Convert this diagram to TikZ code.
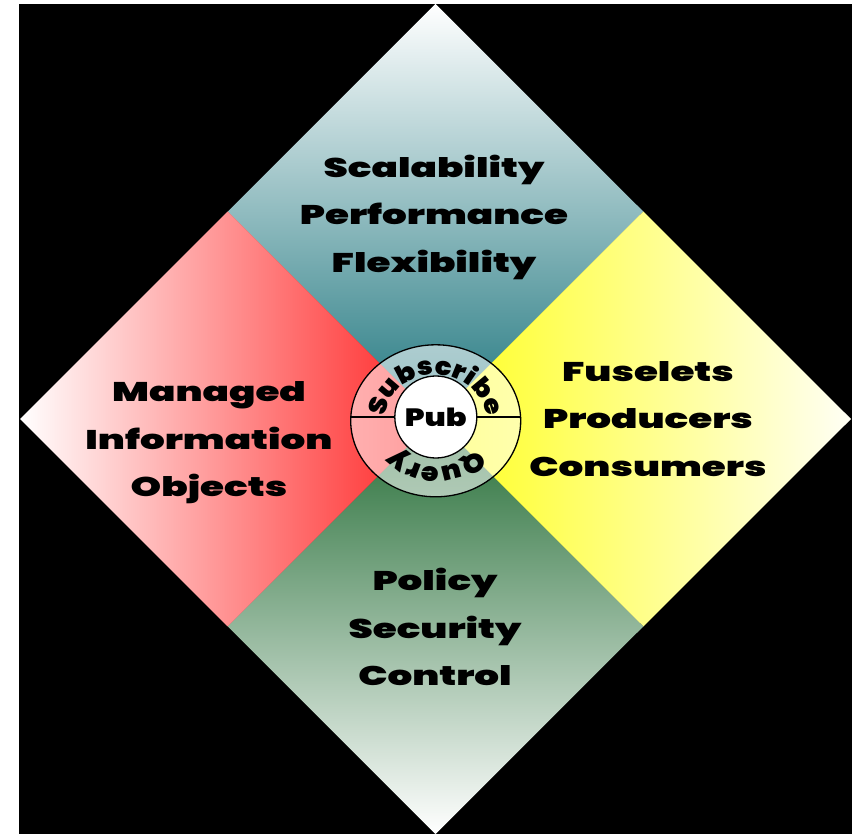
\documentclass[tikz,border=0pt]{standalone}
\usepackage{fontspec}
\usetikzlibrary{shapes.geometric,decorations.text}
\newfontfamily\heavy[FakeStretch=1.44]{Poppins Black}
\newfontfamily\ringfont[FakeStretch=1.1]{Poppins Black}
\newfontfamily\pubfont[FakeStretch=1.22]{Poppins Black}
\definecolor{tealc}{RGB}{34,120,128}
\definecolor{tealm}{RGB}{165,200,205}
\definecolor{redc}{RGB}{255,35,35}
\definecolor{redm}{RGB}{252,160,160}
\definecolor{yelc}{RGB}{255,255,30}
\definecolor{yelw}{RGB}{255,255,245}
\definecolor{yelm}{RGB}{255,255,150}
\definecolor{grnc}{RGB}{38,110,55}
\definecolor{grnm}{RGB}{155,185,160}
\tikzset{
  lbl/.style={font=\heavy\fontsize{27}{47.5}\selectfont, align=center, inner sep=0pt, text=black},
  ringline/.style={draw=black, line width=1.3pt},
}
\begin{document}
\begin{tikzpicture}[x=1pt,y=-1pt]
\useasboundingbox (0,0) rectangle (852,834);
\fill[white] (0,0) rectangle (852,834);
\fill[black] (19,4) rectangle (852,834);
\coordinate (C) at (435.5,419);
\coordinate (T) at (435.5,4);
\coordinate (L) at (20,419);
\coordinate (R) at (851,419);
\coordinate (B) at (435.5,834);
\coordinate (TL) at (227.75,211.5);
\coordinate (TR) at (643.25,211.5);
\coordinate (BL) at (227.75,626.5);
\coordinate (BR) at (643.25,626.5);
% quadrants
\shade[top color=white, middle color=tealm, bottom color=tealc] (T) -- (TR) -- (C) -- (TL) -- cycle;
\shade[left color=white, middle color=redm, right color=redc] (L) -- (TL) -- (C) -- (BL) -- cycle;
\shade[left color=yelc, middle color=yelm, right color=yelw] (R) -- (TR) -- (C) -- (BR) -- cycle;
\shade[top color=grnc, middle color=grnm, bottom color=white] (B) -- (BR) -- (C) -- (BL) -- cycle;
% labels
\node[lbl] (top) at (434,217) {Scalability\\Performance\\Flexibility};
\node[lbl] (left) at (209,443) {Managed\\Information\\Objects};
\node[lbl] (right) at (648,419) {Fuselets\\Producers\\Consumers};
\node[lbl] (bottom) at (435,627) {Policy\\Security\\Control};
% centre ring
\node[ellipse, draw=black, line width=1.3pt, fill=white, fill opacity=0.55,
      minimum width=170pt, minimum height=152pt, inner sep=0pt] (ring) at (435.7,420.8) {};
\node[circle, draw=black, line width=1.3pt, fill=white, minimum size=82pt, inner sep=0pt,
      font=\pubfont\fontsize{25}{25}\selectfont] (pub) at (435.8,417) {Pub};
\draw[ringline] (ring.west |- pub.west) -- (pub.west);
\draw[ringline] (ring.east |- pub.east) -- (pub.east);
\path[decorate, decoration={text along path, text align=center,
      text={|\ringfont\fontsize{25}{25}\selectfont|Subscribe}}]
  (ring.center) ++(160:51 and 46) arc[start angle=160, end angle=380, x radius=51, y radius=46];
\path[decorate, decoration={text along path, text align=center,
      text={|\ringfont\fontsize{26}{26}\selectfont|Query}}]
  (ring.center) ++(-10:51 and 46) arc[start angle=-10, end angle=190, x radius=51, y radius=46];
\end{tikzpicture}
\end{document}
